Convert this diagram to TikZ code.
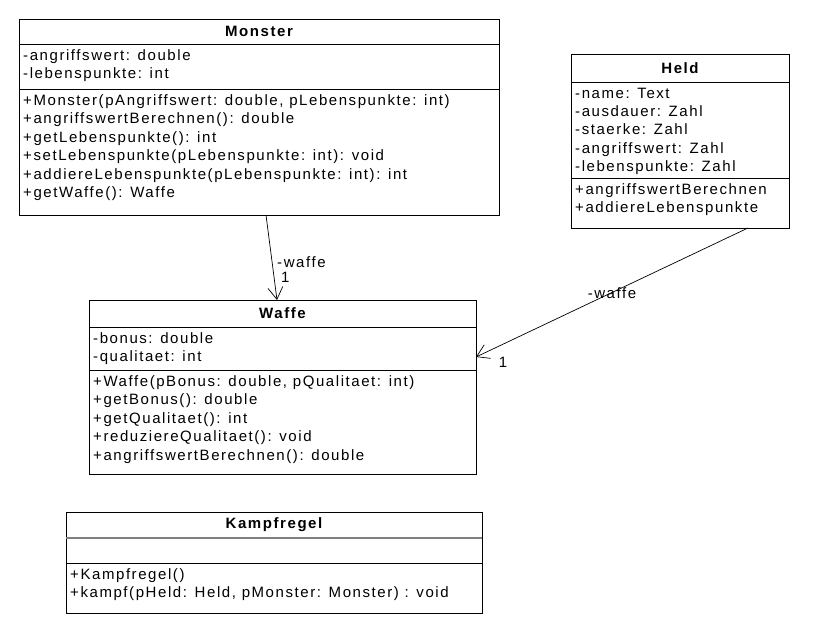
\documentclass[tikz,border=0pt]{standalone}
\usepackage{fontspec}
\setmainfont{Liberation Sans}
\newfontfamily\umlfont[LetterSpace=10.5]{Liberation Sans}
\usetikzlibrary{arrows.meta,calc}
\begin{document}
\begin{tikzpicture}[x=1pt,y=-1pt,
  box/.style={draw=black, line width=0.9pt, inner sep=0pt, outer sep=0pt, anchor=north west},
  sepline/.style={line width=0.9pt},
  title/.style={font=\umlfont\fontsize{15}{18}\selectfont\bfseries, inner sep=0pt},
  body/.style={font=\umlfont\fontsize{15}{18.4}\selectfont, align=left, anchor=north west, inner sep=0pt},
  assoc/.style={line width=0.7pt, -{Straight Barb[length=12pt,width=15pt]}},
  lbl/.style={font=\umlfont\fontsize{15}{16}\selectfont, inner sep=0pt}]
\useasboundingbox[fill=white] (0,0) rectangle (838,634);

% Monster
\node[box, minimum width=480pt, minimum height=196pt] (mon) at (19,19) {};
\draw[sepline] (mon.west |- 0,44) -- (mon.east |- 0,44);
\draw[sepline] (mon.west |- 0,89) -- (mon.east |- 0,89);
\node[title] (monT) at (259,31.5) {Monster};
\node[body] (monA) at (23,49.5) {-angriffswert: double\\-lebenspunkte: int};
\node[body] (monM) at (23,94.5) {+Monster(pAngriffswert: double, pLebenspunkte: int)\\+angriffswertBerechnen(): double\\+getLebenspunkte(): int\\+setLebenspunkte(pLebenspunkte: int): void\\+addiereLebenspunkte(pLebenspunkte: int): int\\+getWaffe(): Waffe};

% Held
\node[box, minimum width=218pt, minimum height=174pt] (held) at (571,54) {};
\draw[sepline] (held.west |- 0,82) -- (held.east |- 0,82);
\draw[sepline] (held.west |- 0,178) -- (held.east |- 0,178);
\node[title] (heldT) at (680,68) {Held};
\node[body] (heldA) at (575,87.5) {-name: Text\\-ausdauer: Zahl\\-staerke: Zahl\\-angriffswert: Zahl\\-lebenspunkte: Zahl};
\node[body] (heldM) at (575,183.5) {+angriffswertBerechnen\\+addiereLebenspunkte};

% Waffe
\node[box, minimum width=387pt, minimum height=174pt] (waf) at (89,300) {};
\draw[sepline] (waf.west |- 0,327) -- (waf.east |- 0,327);
\draw[sepline] (waf.west |- 0,370) -- (waf.east |- 0,370);
\node[title] (wafT) at (282.5,313.5) {Waffe};
\node[body] (wafA) at (93,332.5) {-bonus: double\\-qualitaet: int};
\node[body] (wafM) at (93,375.5) {+Waffe(pBonus: double, pQualitaet: int)\\+getBonus(): double\\+getQualitaet(): int\\+reduziereQualitaet(): void\\+angriffswertBerechnen(): double};

% Kampfregel
\node[box, minimum width=416pt, minimum height=101pt] (kampf) at (66,512) {};
\draw[line width=1.2pt, black!50] (kampf.west |- 0,538) -- (kampf.east |- 0,538);
\draw[sepline] (kampf.west |- 0,563) -- (kampf.east |- 0,563);
\node[title] (kampfT) at (274,525) {Kampfregel};
\node[body] (kampfM) at (70,568.5) {+Kampfregel()\\+kampf(pHeld: Held, pMonster: Monster) : void};

% associations
\coordinate (a1s) at ($(mon.south west)+(247,0)$);
\coordinate (a1e) at ($(waf.north west)+(188,0)$);
\draw[assoc] (a1s) -- (a1e);
\node[lbl, anchor=west] (a1l) at (277,262) {-waffe};
\node[lbl, anchor=west] (a1m) at (281,277) {1};

\coordinate (a2s) at ($(held.south west)+(177,0)$);
\coordinate (a2e) at (waf.east |- 0,357);
\draw[assoc] (a2s) -- (a2e);
\node[lbl] (a2l) at (612,293) {-waffe};
\node[lbl] (a2m) at (503,362) {1};
\end{tikzpicture}
\end{document}
